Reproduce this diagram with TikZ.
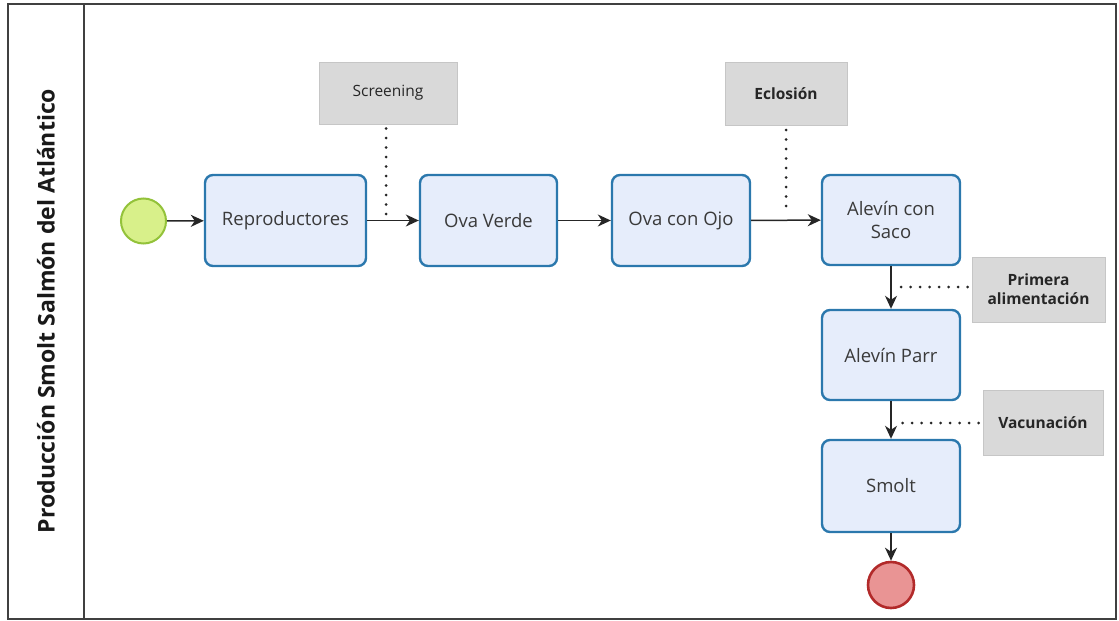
\documentclass[tikz,border=0pt]{standalone}
\usepackage{fontspec}
\setmainfont{Open Sans}
\usetikzlibrary{arrows.meta}
\definecolor{taskline}{HTML}{2B78AD}
\definecolor{taskfill}{HTML}{E6EDFB}
\definecolor{tasktext}{HTML}{3A3A3A}
\definecolor{notefill}{HTML}{D9D9D9}
\definecolor{noteline}{HTML}{C6C6C6}
\definecolor{startfill}{HTML}{D8F08A}
\definecolor{startline}{HTML}{93C23A}
\definecolor{endfill}{HTML}{E99494}
\definecolor{endline}{HTML}{B22A2A}
\tikzset{
  task/.style={draw=taskline, line width=2.4pt, fill=taskfill, rounded corners=8pt,
    minimum width=138pt, minimum height=91pt, align=center, text=tasktext,
    font=\fontsize{18.5}{23}\selectfont},
  note/.style={draw=noteline, line width=1pt, fill=notefill, align=center,
    text=black!85, font=\fontsize{15.5}{19}\selectfont},
  notebold/.style={note, font=\fontsize{15.5}{19}\selectfont\bfseries},
  startev/.style={circle, draw=startline, fill=startfill, line width=2pt, minimum size=45pt},
  endev/.style={circle, draw=endline, fill=endfill, line width=2.6pt, minimum size=46pt},
  flow/.style={line width=1.5pt, black!85, -{Stealth[length=13pt,width=12pt,inset=4pt]}},
  assoc/.style={line width=3pt, dash pattern=on 0pt off 9.5pt, line cap=round, black!85},
}
\begin{document}
\begin{tikzpicture}[x=1pt,y=-1pt]
\useasboundingbox (0,0) rectangle (1119,621);
% pool and lane frame
\draw[line width=1.3pt, black!75] (8,4) rectangle (1116,619);
\draw[line width=1.3pt, black!75] (84,4) -- (84,619);
\node[rotate=90, font=\fontsize{23}{28}\selectfont\bfseries, text=black!90] (title) at (46,311)
  {Producción Smolt Salmón del Atlántico};

% events
\node[startev] (start) at (143.5,221) {};
\node[endev] (end) at (891,585) {};

% tasks
\node[task, minimum width=161pt] (repro) at (285.5,220.5) {Reproductores};
\node[task, minimum width=137pt] (verde) at (488.5,220.5) {Ova Verde};
\node[task, minimum width=138pt] (ojo) at (681,220.5) {Ova con Ojo};
\node[task, minimum width=138pt, minimum height=90pt] (saco) at (891,220) {Alevín con\\Saco};
\node[task, minimum width=138pt, minimum height=90pt] (parr) at (891,355) {Alevín Parr};
\node[task, minimum width=138pt, minimum height=92pt] (smolt) at (891,486) {Smolt};

% annotations
\node[note, minimum width=138pt, minimum height=62pt] (screen) at (388,93) {Screening};
\node[notebold, minimum width=122pt, minimum height=63pt] (eclo) at (786,94) {Eclosión};
\node[notebold, minimum width=133pt, minimum height=65pt] (prim) at (1038.5,289.5) {Primera\\alimentación};
\node[notebold, minimum width=120pt, minimum height=65pt] (vacu) at (1043,422.5) {Vacunación};

% sequence flows
\draw[flow] (start) -- (repro);
\draw[flow] (repro) -- (verde);
\draw[flow] (verde) -- (ojo);
\draw[flow] (ojo) -- (saco);
\draw[flow] (saco) -- (parr);
\draw[flow] (parr) -- (smolt);
\draw[flow] (smolt) -- (end);

% associations
\coordinate (screenend) at (386,221);
\coordinate (ecloend) at (786,214);
\coordinate (primend) at (895,287);
\coordinate (vacuend) at (895,423);
\draw[assoc] (screen.south -| screenend) ++(0,4) -- (screenend);
\draw[assoc] (eclo.south -| ecloend) ++(0,4) -- (ecloend);
\draw[assoc] (prim.west |- primend) ++(-4,0) -- (primend);
\draw[assoc] (vacu.west |- vacuend) ++(-4,0) -- (vacuend);
\end{tikzpicture}
\end{document}
